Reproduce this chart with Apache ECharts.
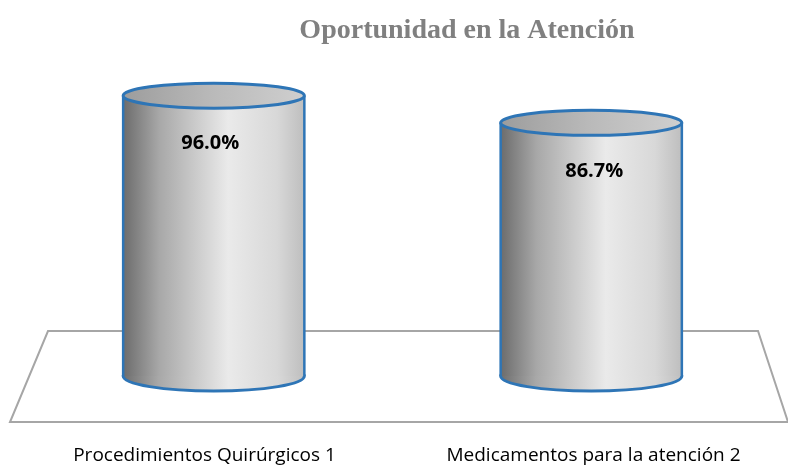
<!DOCTYPE html>
<html>
<head>
<meta charset="utf-8">
<script src="https://cdn.jsdelivr.net/npm/echarts@6/dist/echarts.min.js"></script>
<style>
  html, body { margin: 0; padding: 0; background: #fff; }
  #chart { width: 788px; height: 468px; }
</style>
</head>
<body>
<div id="chart"></div>
<script>
const categories = ['Procedimientos Quirúrgicos 1', 'Medicamentos para la atención 2'];
const values = [96.0, 86.7];
const valueLabels = ['96.0%', '86.7%'];

const chart = echarts.init(document.getElementById('chart'), null, {renderer: 'canvas'});

// cuerpo del cilindro: gris con brillo a la derecha
const bodyFill = () => new echarts.graphic.LinearGradient(0, 0, 1, 0, [
  {offset: 0, color: '#6c6c6c'},
  {offset: 0.2, color: '#a8a8a8'},
  {offset: 0.58, color: '#eaeaea'},
  {offset: 0.85, color: '#d8d8d8'},
  {offset: 1, color: '#bebebe'},
]);
const capFill = () => new echarts.graphic.LinearGradient(0, 0, 1, 0, [
  {offset: 0, color: '#9c9c9c'},
  {offset: 0.5, color: '#bababa'},
  {offset: 1, color: '#cfcfcf'},
]);
const BLUE = '#2e75b6';

function renderCylinder(params, api) {
  const top = api.coord([api.value(0), api.value(1)]);
  const base = api.coord([api.value(0), 0]);
  const rx = api.size([1, 0])[0] * 0.48 / 2;
  const cx = top[0];
  const ryTop = 12.5, ryBot = 15;
  const i = params.dataIndex;
  return {
    type: 'group',
    children: [
      {type: 'ellipse', shape: {cx: cx, cy: base[1], rx: rx, ry: ryBot},
        style: {fill: bodyFill(), stroke: BLUE, lineWidth: 3}},
      {type: 'rect', shape: {x: cx - rx, y: top[1], width: rx * 2, height: base[1] - top[1]},
        style: {fill: bodyFill()}},
      {type: 'line', shape: {x1: cx - rx, y1: top[1], x2: cx - rx, y2: base[1]},
        style: {stroke: BLUE, lineWidth: 2.5}},
      {type: 'line', shape: {x1: cx + rx, y1: top[1], x2: cx + rx, y2: base[1]},
        style: {stroke: BLUE, lineWidth: 2.5}},
      {type: 'ellipse', shape: {cx: cx, cy: top[1], rx: rx, ry: ryTop},
        style: {fill: capFill(), stroke: BLUE, lineWidth: 3}},
      {type: 'text', x: cx + (i ? 3 : -3.5), y: top[1] + 48,
        style: {text: valueLabels[i], fill: '#000', font: 'bold 20px "Open Sans", sans-serif',
          align: 'center', verticalAlign: 'middle'}},
    ],
  };
}

const option = {
  backgroundColor: '#fff',
  animation: false,
  title: {
    text: 'Oportunidad en la Atención',
    left: 462,
    top: 12,
    textAlign: 'center',
    textStyle: {fontFamily: '"Liberation Serif", serif', fontWeight: 'bold', fontSize: 28, color: '#808080'},
  },
  grid: [
    {left: 25, right: 8, top: 84, bottom: 92},
    // borde frontal del piso: las etiquetas se centran aqui
    {left: 10, right: 0, top: 331, bottom: 46},
  ],
  xAxis: [
    {
      type: 'category', gridIndex: 0, data: categories,
      axisLine: {show: false}, axisTick: {show: false}, axisLabel: {show: false},
    },
    {
      type: 'category', gridIndex: 1, data: categories,
      axisLine: {show: false}, axisTick: {show: false},
      axisLabel: {margin: 24, fontSize: 19, color: '#000', fontFamily: '"Open Sans", sans-serif', interval: 0},
    },
  ],
  yAxis: [
    {type: 'value', gridIndex: 0, min: 0, max: 100, show: false},
    {type: 'value', gridIndex: 1, min: 0, max: 100, show: false},
  ],
  graphic: [{
    type: 'polygon',
    z: 0,
    shape: {points: [[48, 331], [758, 331], [788, 422], [10, 422]]},
    style: {fill: '#fff', stroke: '#a6a6a6', lineWidth: 2},
  }],
  series: [{
    type: 'custom',
    renderItem: renderCylinder,
    data: categories.map((c, i) => [i, values[i]]),
    z: 5,
  }],
};
chart.setOption(option);
</script>
</body>
</html>
